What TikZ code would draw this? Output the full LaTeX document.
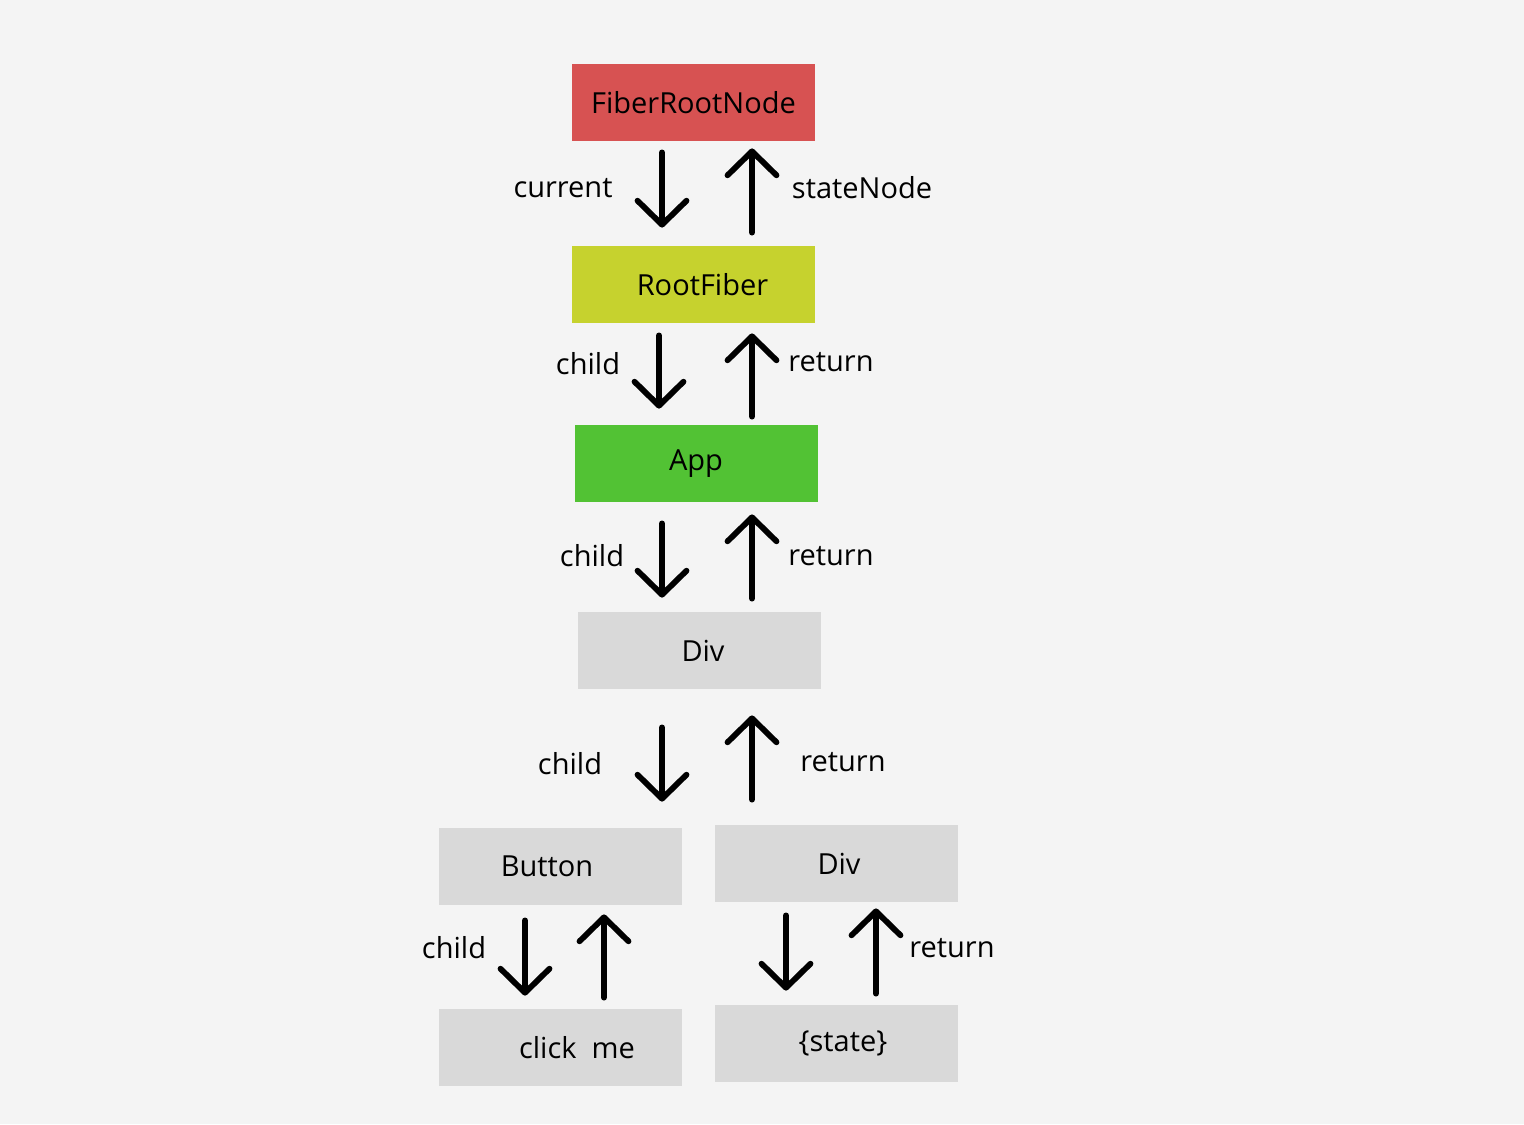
\documentclass[tikz,border=0pt]{standalone}
\usepackage{fontspec}
\setmainfont{Open Sans}
\usetikzlibrary{arrows.meta}
\definecolor{bg}{HTML}{F4F4F4}
\definecolor{cred}{HTML}{D75252}
\definecolor{cyel}{HTML}{C6D22E}
\definecolor{cgrn}{HTML}{52C234}
\definecolor{cgry}{HTML}{D9D9D9}
\begin{document}
\begin{tikzpicture}[x=0.5pt,y=-0.5pt,
  box/.style={rectangle, minimum width=121.5pt, minimum height=38.5pt, inner sep=0pt, font=\fontsize{14.5}{16}\selectfont},
  lbl/.style={font=\fontsize{14.5}{16}\selectfont, inner sep=0pt},
  arr/.style={line width=2.9pt, line cap=round, -{Straight Barb[round,length=12pt,width=24.5pt,line width=2.9pt]}}
]
\fill[bg] (0,0) rectangle (1524,1124);
\useasboundingbox (0,0) rectangle (1524,1124);

\node[box, fill=cred] (frn) at (693.5,102.5) {FiberRootNode};
\node[box, fill=cyel] (rf) at (693.5,284.5) {\hspace*{9pt}RootFiber};
\node[box, fill=cgrn] (app) at (696,463.5) {App};
\node[box, fill=cgry] (div) at (699.5,650.5) {\hspace*{3.5pt}Div};
\node[box, fill=cgry] (btn) at (560,866.5) {Button\hspace*{13pt}};
\node[box, fill=cgry] (div2) at (836,863.5) {\hspace*{3pt}Div};
\node[box, fill=cgry] (click) at (560,1047.5) {\hspace*{17pt}click\ \ me};
\node[box, fill=cgry] (state) at (836,1043.5) {\hspace*{7pt}\{state\}};

% FiberRootNode <-> RootFiber
\draw[arr] ([xshift=-15.75pt,yshift=-5.5pt]frn.south) -- ([xshift=-15.75pt,yshift=9pt]rf.north);
\draw[arr] ([xshift=29.25pt,yshift=6.5pt]rf.north) -- ([xshift=29.25pt,yshift=-3.5pt]frn.south);
\node[lbl] (l1) at (563,188) {current};
\node[lbl] (l2) at (862,188) {stateNode};

% RootFiber <-> App
\draw[arr] ([xshift=-17.25pt,yshift=-6pt]rf.south) -- ([xshift=-18.5pt,yshift=8pt]app.north);
\draw[arr] ([xshift=28pt,yshift=4pt]app.north) -- ([xshift=29.25pt,yshift=-5pt]rf.south);
\node[lbl] (l3) at (588,364) {child};
\node[lbl] (l4) at (831,362) {return};

% App <-> Div
\draw[arr] ([xshift=-17pt,yshift=-10.5pt]app.south) -- ([xshift=-18.75pt,yshift=7pt]div.north);
\draw[arr] ([xshift=26.25pt,yshift=6.5pt]div.north) -- ([xshift=28pt,yshift=-6pt]app.south);
\node[lbl] (l5) at (592,556) {child};
\node[lbl] (l6) at (831,556) {return};

% Div <-> Button / Div
\draw[arr] ([xshift=-18.75pt,yshift=-19pt]div.south) -- ([xshift=51pt,yshift=13pt]btn.north);
\draw[arr] ([xshift=-42pt,yshift=12.5pt]div2.north) -- ([xshift=26.25pt,yshift=-13pt]div.south);
\node[lbl] (l7) at (570,764) {child};
\node[lbl] (l8) at (843,762) {return};

% Button <-> click me
\draw[arr] ([xshift=-17.5pt,yshift=-7.5pt]btn.south) -- ([xshift=-17.5pt,yshift=6.5pt]click.north);
\draw[arr] ([xshift=22pt,yshift=5.5pt]click.north) -- ([xshift=22pt,yshift=-4.5pt]btn.south);
\node[lbl] (l9) at (454,948) {child};

% Div <-> state
\draw[arr] ([xshift=-25pt,yshift=-6.5pt]div2.south) -- ([xshift=-25pt,yshift=7pt]state.north);
\draw[arr] ([xshift=20pt,yshift=5.5pt]state.north) -- ([xshift=20pt,yshift=-3pt]div2.south);
\node[lbl] (l10) at (952,948) {return};
\end{tikzpicture}
\end{document}
